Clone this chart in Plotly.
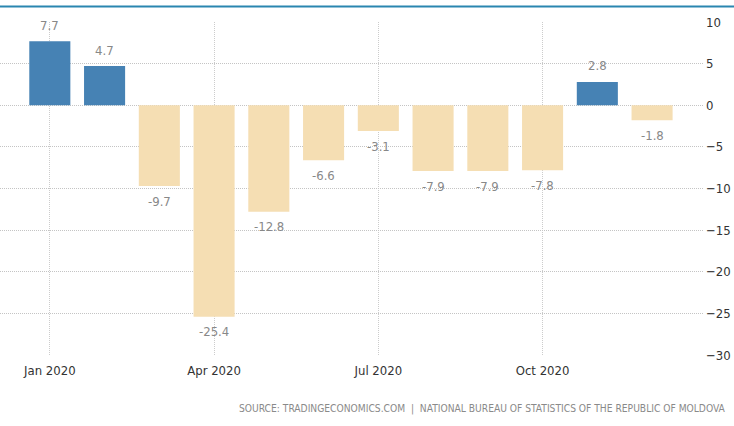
import plotly.graph_objects as go

months = ["Jan 2020", "Feb 2020", "Mar 2020", "Apr 2020", "May 2020", "Jun 2020",
          "Jul 2020", "Aug 2020", "Sep 2020", "Oct 2020", "Nov 2020", "Dec 2020"]
values = [7.7, 4.7, -9.7, -25.4, -12.8, -6.6, -3.1, -7.9, -7.9, -7.8, 2.8, -1.8]
tick_months = ["Jan 2020", "Apr 2020", "Jul 2020", "Oct 2020"]
y_ticks = [10, 5, 0, -5, -10, -15, -20, -25, -30]

xs = list(range(len(months)))
colors = ["#4682b4" if v >= 0 else "#f5deb3" for v in values]

fig = go.Figure()
fig.add_trace(go.Bar(
    x=xs, y=values, marker=dict(color=colors, line=dict(width=0)),
    width=0.75, hoverinfo="skip"))

font_main = "Liberation Sans Narrow, DejaVu Sans Condensed, Liberation Sans, sans-serif"

annotations = []
for x, v in zip(xs, values):
    annotations.append(dict(
        x=x, y=v, xref="x", yref="y", text=f"{v:.1f}", showarrow=False,
        yanchor="middle", yshift=16 if v >= 0 else -15,
        font=dict(family=font_main, size=13, color="#888888")))
annotations.append(dict(
    x=1.0355, y=-0.163, xref="paper", yref="paper", xanchor="right", yanchor="middle",
    text="SOURCE: TRADINGECONOMICS.COM  |  NATIONAL BUREAU OF STATISTICS OF THE REPUBLIC OF MOLDOVA",
    showarrow=False, font=dict(family=font_main, size=10.2, color="#8a8a8a")))

fig.update_layout(
    width=734, height=426,
    margin=dict(l=0, r=31, t=22, b=71),
    paper_bgcolor="white", plot_bgcolor="white",
    showlegend=False,
    annotations=annotations,
    shapes=[dict(type="line", xref="paper", yref="paper", x0=0, x1=734 / 703,
                 y0=1 + 15.5 / 333, y1=1 + 15.5 / 333,
                 line=dict(color="#2a86b0", width=2))],
)
fig.update_xaxes(
    range=[-0.91, 11.93],
    tickvals=[months.index(m) for m in tick_months], ticktext=tick_months,
    showgrid=True, gridcolor="#cccccc", griddash="1px,1px", gridwidth=1,
    zeroline=False, showline=False, ticks="", ticklabelstandoff=6,
    tickfont=dict(family=font_main, size=13, color="#333333"))
fig.update_yaxes(
    range=[-30, 10], side="right", tickvals=y_ticks,
    showgrid=True, gridcolor="#c4c4c4", griddash="1px,1px", gridwidth=1,
    zeroline=False, showline=False, ticks="", ticklabelstandoff=2,
    tickfont=dict(family=font_main, size=13, color="#333333"))

fig.write_html("out.html", config={"displayModeBar": False},
               post_script="document.body.style.margin='0';")
